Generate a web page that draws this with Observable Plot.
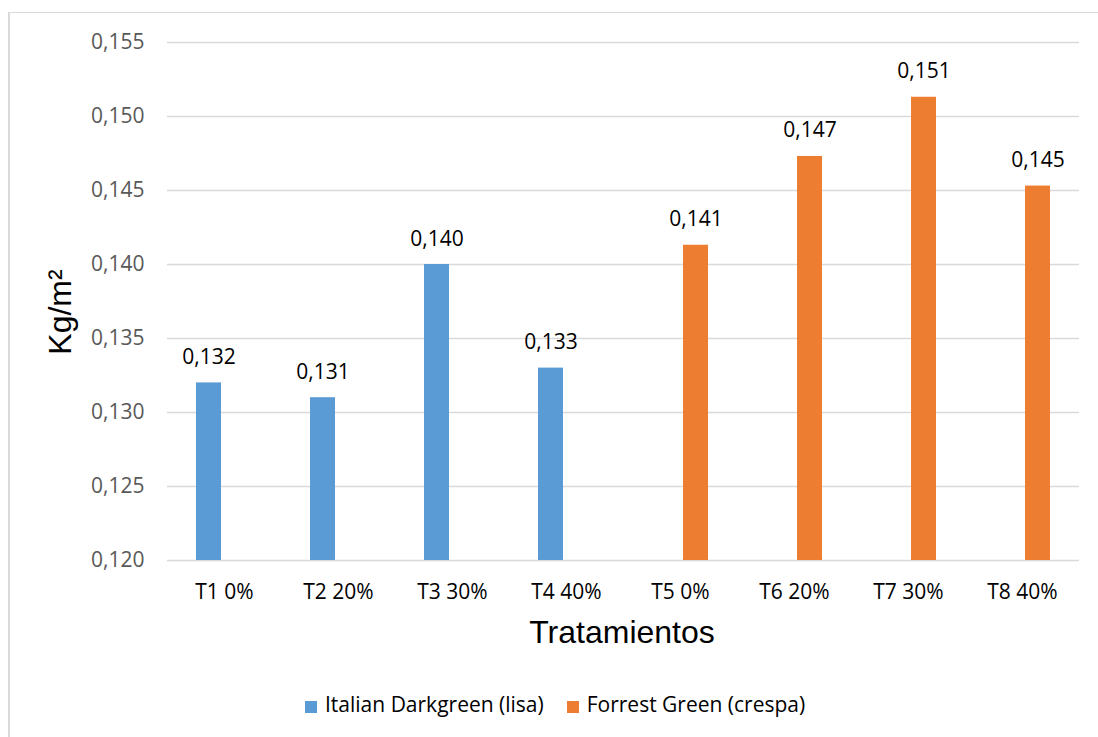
<!DOCTYPE html>
<html>
<head>
<meta charset="utf-8">
<script src="https://cdn.jsdelivr.net/npm/d3@7"></script>
<script src="https://cdn.jsdelivr.net/npm/@observablehq/plot@0.6"></script>
<style>
  html, body { margin: 0; padding: 0; background: #fff; }
  body { width: 1098px; height: 737px; overflow: hidden; position: relative; font-family: "Open Sans", sans-serif; }
  #frame { position: absolute; left: 8px; top: 12px; width: 1200px; height: 800px; border-left: 2px solid #d9d9d9; border-top: 1px solid #d9d9d9; }
  #chart { position: absolute; left: 0; top: 0; }
  #ytitle { position: absolute; left: 60px; top: 311.5px; transform: translate(-50%, -50%) rotate(-90deg); font-family: "Liberation Sans", Arial, sans-serif; font-size: 32px; line-height: 32px; white-space: nowrap; color: #000; }
  #xtitle { position: absolute; left: 622px; top: 616px; transform: translateX(-50%); font-family: "Liberation Sans", Arial, sans-serif; font-size: 32px; line-height: 32px; white-space: nowrap; color: #000; }
  #legend { position: absolute; left: 305px; top: 694px; display: flex; align-items: center; font-size: 21px; line-height: 21px; color: #000; }
  .item { display: flex; align-items: center; margin-right: 23px; }
  .sw { width: 12px; height: 12px; margin-right: 8px; margin-top: 4px; }
</style>
</head>
<body>
<div id="frame"></div>
<div id="chart"></div>
<div id="ytitle">Kg/m²</div>
<div id="xtitle">Tratamientos</div>
<div id="legend"></div>
<script>
const categories = ["T1 0%", "T2 20%", "T3 30%", "T4 40%", "T5 0%", "T6 20%", "T7 30%", "T8 40%"];
const seriesNames = ["Italian Darkgreen (lisa)", "Forrest Green (crespa)"];
const seriesColors = ["#5B9BD5", "#ED7D31"];
const lisaCategories = ["T1 0%", "T2 20%", "T3 30%", "T4 40%"];
const lisaValues = [0.132, 0.131, 0.140, 0.133];
const crespaCategories = ["T5 0%", "T6 20%", "T7 30%", "T8 40%"];
const crespaValues = [0.1413, 0.1473, 0.1513, 0.1453];
const yDomain = [0.120, 0.155];
const yTicks = [0.120, 0.125, 0.130, 0.135, 0.140, 0.145, 0.150, 0.155];
const yTitle = "Kg/m²";
const xTitle = "Tratamientos";

const data = [
  ...lisaValues.map((v, i) => ({category: lisaCategories[i], series: seriesNames[0], value: v})),
  ...crespaValues.map((v, i) => ({category: crespaCategories[i], series: seriesNames[1], value: v}))
];
const fmt = v => d3.format(".3f")(v).replace(".", ",");

const chart = Plot.plot({
  width: 1098,
  height: 670,
  marginLeft: 164,
  marginRight: 17,
  marginTop: 42,
  marginBottom: 110,
  style: {background: "transparent", fontFamily: "'Open Sans', sans-serif", fontSize: "21px", overflow: "visible"},
  fx: {domain: categories, padding: 0, label: null},
  x: {domain: seriesNames, paddingInner: 0.1875, paddingOuter: 0.885, axis: null},
  y: {domain: yDomain, label: null},
  color: {domain: seriesNames, range: seriesColors},
  marks: [
    Plot.gridY(yTicks, {stroke: "#d9d9d9", strokeOpacity: 1, strokeWidth: 1.3}),
    Plot.axisY(yTicks, {tickSize: 0, tickPadding: 23, tickFormat: fmt, fill: "#595959", fontSize: 21, label: null}),
    Plot.axisFx({anchor: "bottom", tickSize: 0, tickPadding: 24, fill: "#000", fontSize: 21, label: null}),
    Plot.barY(data, {fx: "category", x: "series", y1: yDomain[0], y2: "value", fill: "series"}),
    Plot.text(data, {fx: "category", x: "series", y: "value", text: d => fmt(d.value), lineAnchor: "bottom", dy: -19, fill: "#000", fontSize: 21})
  ]
});
document.getElementById("chart").appendChild(chart);
document.getElementById("ytitle").textContent = yTitle;
document.getElementById("xtitle").textContent = xTitle;

const legend = document.getElementById("legend");
seriesNames.forEach((name, i) => {
  const item = document.createElement("div");
  item.className = "item";
  const sw = document.createElement("span");
  sw.className = "sw";
  sw.style.background = seriesColors[i];
  const label = document.createElement("span");
  label.textContent = name;
  item.appendChild(sw);
  item.appendChild(label);
  legend.appendChild(item);
});
</script>
</body>
</html>
